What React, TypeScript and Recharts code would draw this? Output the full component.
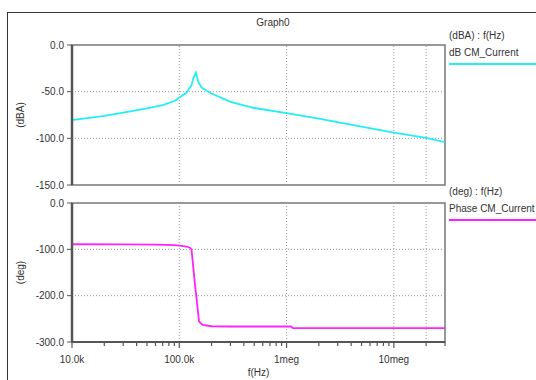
import React from 'react'
import { LineChart, Line, XAxis, YAxis, ReferenceLine, ReferenceArea, Legend } from 'recharts'

// magnitude trace: frequency (Hz) / level (dBA)
const magFreq = [1e4, 2e4, 3e4, 5e4, 7e4, 9e4, 1e5, 1.17e5, 1.3e5, 1.35e5, 1.43e5, 1.5e5, 1.61e5, 1.8e5, 2e5, 3e5, 5e5, 1e6, 2e6, 5e6, 1e7, 2e7, 3e7]
const magDb = [-80.5, -76, -72.5, -68, -64.5, -60, -56.5, -51, -43, -36, -29.5, -39, -45.5, -49, -52, -61, -67.5, -73, -79, -87.5, -94, -99.5, -104]

// phase trace: frequency (Hz) / phase (deg)
const phaseFreq = [1e4, 3e4, 6e4, 9e4, 1.1e5, 1.25e5, 1.3e5, 1.4e5, 1.53e5, 1.65e5, 2e5, 3e5, 1.1e6, 1.15e6, 3e7]
const phaseDeg = [-89, -89.5, -90, -91, -93, -96, -100, -175, -256, -263, -266, -266.5, -266.5, -270, -270]

const freqDomain = [1e4, 3e7]
const freqGrid = [1e5, 1e6, 1e7, 2e7]
const decadeLabels: Record<number, string> = { 10000: '10.0k', 100000: '100.0k', 1000000: '1meg', 10000000: '10meg' }
const dbTicks = [0, -50, -100, -150]
const dbGrid = [-50, -100]
const degTicks = [0, -100, -200, -300]
const degGrid = [-100, -200]

const magData = magFreq.map((f, i) => ({ f, db: magDb[i] }))
const phaseData = phaseFreq.map((f, i) => ({ f, deg: phaseDeg[i] }))

// 1..9 per decade, up to the end of the sweep
const freqTicks: number[] = []
for (const d of [1e4, 1e5, 1e6, 1e7]) {
  for (let m = 1; m <= 9; m++) if (d * m <= freqDomain[1]) freqTicks.push(d * m)
}

const FONT = '"Liberation Sans", Arial, sans-serif'
const INK = '#333'
const AXIS = '#555'
const CYAN = '#22eef5'
const MAGENTA = '#ff22ff'

const XTick = (props: any) => {
  const { x, y, payload } = props
  const label = decadeLabels[payload.value]
  return (
    <g>
      <line x1={x} x2={x} y1={y} y2={y + (label ? 6 : 4)} stroke={AXIS} strokeWidth={1.2} />
      {label && (
        <text x={x} y={y + 21} textAnchor="middle" fontFamily={FONT} fontSize={10} fill={INK}>
          {label}
        </text>
      )}
    </g>
  )
}

const yLabel = (text: string) => ({
  content: (p: any) => {
    const vb = p.viewBox
    const cx = vb.x + 20
    const cy = vb.y + vb.height / 2
    return (
      <text x={cx} y={cy} transform={`rotate(-90 ${cx} ${cy})`} textAnchor="middle"
        dominantBaseline="central" fontFamily={FONT} fontSize={10} fill={INK}>
        {text}
      </text>
    )
  },
})

const legendBox = (header: string) => (props: any) => {
  const item = props.payload?.[0]
  if (!item) return null
  return (
    <div style={{ fontFamily: FONT, fontSize: 10, color: INK, lineHeight: '17px', whiteSpace: 'nowrap' }}>
      <div>{header}</div>
      <div>{item.value}</div>
      <div style={{ height: 2, background: item.color, marginTop: 2, width: 90 }} />
    </div>
  )
}

const gridStyle = { stroke: '#999', strokeDasharray: '1 2', strokeWidth: 1 }

export default function App() {
  return (
    <div style={{ position: 'absolute', left: 0, top: 0, width: 536, height: 380, background: '#fff', overflow: 'hidden' }}>
      <div style={{ position: 'absolute', left: 7, top: 12, width: 540, height: 380, borderLeft: `1.5px solid ${INK}`, borderTop: `1.5px solid ${INK}` }} />
      <div style={{ position: 'absolute', left: 0, width: 546, top: 17, textAlign: 'center', fontFamily: FONT, fontSize: 10, color: INK }}>
        Graph0
      </div>

      <div style={{ position: 'absolute', left: 0, top: 0 }}>
        <LineChart width={536} height={190} data={magData} margin={{ top: 45, right: 91, bottom: 5, left: 0 }}>
          <XAxis dataKey="f" type="number" scale="log" domain={freqDomain} allowDataOverflow hide />
          <YAxis type="number" domain={[-150, 0]} ticks={dbTicks} interval={0} width={72} allowDataOverflow
            tickFormatter={(v: number) => v.toFixed(1)} tickSize={5} tickMargin={3}
            tick={{ fontSize: 10, fill: INK, fontFamily: FONT }}
            axisLine={{ stroke: AXIS, strokeWidth: 2.5 }} tickLine={{ stroke: AXIS }}
            label={yLabel('(dBA)')} />
          <ReferenceArea x1={freqDomain[0]} x2={freqDomain[1]} y1={-150} y2={0} fill="none" stroke="#777" strokeWidth={1.5} />
          {freqGrid.map(f => <ReferenceLine key={f} x={f} {...gridStyle} />)}
          {dbGrid.map(v => <ReferenceLine key={v} y={v} {...gridStyle} />)}
          <Legend layout="horizontal" align="center" verticalAlign="middle" content={legendBox('(dBA) : f(Hz)')}
            wrapperStyle={{ left: 449, top: 27, width: 95, height: 40 }} />
          <Line dataKey="db" name="dB CM_Current" stroke={CYAN} strokeWidth={1.8} dot={false} isAnimationActive={false} />
        </LineChart>
      </div>

      <div style={{ position: 'absolute', left: 0, top: 180 }}>
        <LineChart width={536} height={200} data={phaseData} margin={{ top: 23, right: 91, bottom: 0, left: 0 }}>
          <XAxis dataKey="f" type="number" scale="log" domain={freqDomain} allowDataOverflow
            ticks={freqTicks} interval={0} tickSize={0} tickMargin={0} tickLine={false} tick={<XTick />}
            axisLine={{ stroke: AXIS, strokeWidth: 2 }} height={38}
            label={{ value: 'f(Hz)', position: 'insideBottom', offset: 4, fill: INK, fontSize: 10, fontFamily: FONT }} />
          <YAxis type="number" domain={[-300, 0]} ticks={degTicks} interval={0} width={72} allowDataOverflow
            tickFormatter={(v: number) => v.toFixed(1)} tickSize={5} tickMargin={3}
            tick={{ fontSize: 10, fill: INK, fontFamily: FONT }}
            axisLine={{ stroke: AXIS, strokeWidth: 2.5 }} tickLine={{ stroke: AXIS }}
            label={yLabel('(deg)')} />
          <ReferenceArea x1={freqDomain[0]} x2={freqDomain[1]} y1={-300} y2={0} fill="none" stroke="#777" strokeWidth={1.5} />
          {freqGrid.map(f => <ReferenceLine key={f} x={f} {...gridStyle} />)}
          {degGrid.map(v => <ReferenceLine key={v} y={v} {...gridStyle} />)}
          <Legend layout="horizontal" align="center" verticalAlign="middle" content={legendBox('(deg) : f(Hz)')}
            wrapperStyle={{ left: 449, top: 3, width: 95, height: 40 }} />
          <Line dataKey="deg" name="Phase CM_Current" stroke={MAGENTA} strokeWidth={1.8} dot={false} isAnimationActive={false} />
        </LineChart>
      </div>
    </div>
  )
}
